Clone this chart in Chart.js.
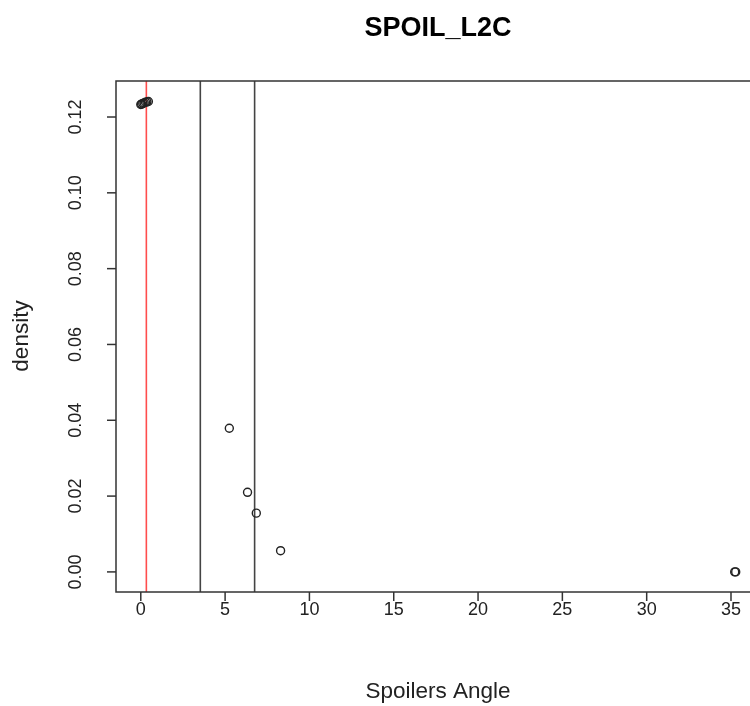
<!DOCTYPE html>
<html>
<head>
<meta charset="utf-8">
<script src="https://cdn.jsdelivr.net/npm/chart.js@4.4.1/dist/chart.umd.min.js"></script>
<style>
  html, body { margin: 0; padding: 0; background: #fff; }
  #wrap { width: 750px; height: 706px; overflow: hidden; position: relative; }
  canvas { display: block; }
</style>
</head>
<body>
<div id="wrap"><canvas id="c" width="800" height="706"></canvas></div>
<script>
// Observed spoiler angles and their estimated densities
const angle   = [0.00, 0.05, 0.12, 0.20, 0.28, 0.36, 0.45, 5.25, 6.33, 6.85, 8.29, 35.22, 35.28];
const density = [0.1233, 0.1234, 0.1236, 0.1237, 0.1239, 0.1240, 0.1241, 0.0379, 0.0210, 0.0155, 0.0056, 0.0000, 0.0000];

// Reference lines
const redLine = [0.33];
const blackLines = [3.53, 6.75];

// Axis ticks
const xTicks = [0, 5, 10, 15, 20, 25, 30, 35];
const yTicks = [0.00, 0.02, 0.04, 0.06, 0.08, 0.10, 0.12];
const yTickLabels = ["0.00", "0.02", "0.04", "0.06", "0.08", "0.10", "0.12"];

const X_MIN = -1.47, X_MAX = 36.72;
const Y_MIN = -0.0053, Y_MAX = 0.1295;

const FONT = "'Liberation Sans', Arial, sans-serif";

const points = angle.map((a, i) => ({ x: a, y: density[i] }));
const vline = (x) => [{ x: x, y: Y_MIN }, { x: x, y: Y_MAX }];

const lineDatasets = [];
redLine.forEach(x => lineDatasets.push({
  type: 'line', data: vline(x), borderColor: '#ff4d4d', borderWidth: 1.6,
  pointRadius: 0, fill: false, order: 2
}));
blackLines.forEach(x => lineDatasets.push({
  type: 'line', data: vline(x), borderColor: '#444', borderWidth: 1.6,
  pointRadius: 0, fill: false, order: 2
}));

// Base-graphics style frame, ticks and labels
const framePlugin = {
  id: 'frame',
  afterDraw(chart) {
    const { ctx, chartArea: a, scales } = chart;
    const xs = scales.x, ys = scales.y;
    const tick = 9;
    ctx.save();
    ctx.strokeStyle = '#333';
    ctx.lineWidth = 1.5;
    ctx.strokeRect(a.left, a.top, a.right - a.left, a.bottom - a.top);

    ctx.fillStyle = '#222';
    ctx.font = `18px ${FONT}`;
    ctx.textAlign = 'center';
    ctx.textBaseline = 'middle';
    xs.ticks.forEach(t => {
      const px = xs.getPixelForValue(t.value);
      ctx.beginPath();
      ctx.moveTo(px, a.bottom);
      ctx.lineTo(px, a.bottom + tick);
      ctx.stroke();
      ctx.fillText(t.label, px, 610);
    });
    ys.ticks.forEach(t => {
      const py = ys.getPixelForValue(t.value);
      ctx.beginPath();
      ctx.moveTo(a.left, py);
      ctx.lineTo(a.left - tick, py);
      ctx.stroke();
      ctx.save();
      ctx.translate(76, py);
      ctx.rotate(-Math.PI / 2);
      ctx.fillText(t.label, 0, 0);
      ctx.restore();
    });

    // axis titles
    ctx.font = `22.5px ${FONT}`;
    ctx.fillText('Spoilers Angle', 438, 692);
    ctx.save();
    ctx.translate(22, 336);
    ctx.rotate(-Math.PI / 2);
    ctx.fillText('density', 0, 0);
    ctx.restore();

    // main title
    ctx.font = `bold 27px ${FONT}`;
    ctx.fillStyle = '#000';
    ctx.fillText('SPOIL_L2C', 438, 29);
    ctx.restore();
  }
};

new Chart(document.getElementById('c'), {
  type: 'scatter',
  data: {
    datasets: [
      {
        data: points,
        showLine: false,
        pointRadius: 4,
        pointBorderWidth: 1.4,
        pointBorderColor: '#222',
        pointBackgroundColor: 'rgba(0,0,0,0)',
        order: 1
      },
      ...lineDatasets
    ]
  },
  options: {
    responsive: false,
    animation: false,
    events: [],
    layout: { padding: { left: 116, top: 81, right: 40, bottom: 114 } },
    plugins: { legend: { display: false }, tooltip: { enabled: false }, title: { display: false } },
    scales: {
      x: {
        type: 'linear', min: X_MIN, max: X_MAX, display: false,
        afterBuildTicks: s => { s.ticks = xTicks.map(v => ({ value: v })); },
        ticks: { callback: v => String(v) }
      },
      y: {
        type: 'linear', min: Y_MIN, max: Y_MAX, display: false,
        afterBuildTicks: s => { s.ticks = yTicks.map(v => ({ value: v })); },
        ticks: { callback: v => yTickLabels[yTicks.findIndex(t => Math.abs(t - v) < 1e-9)] }
      }
    }
  },
  plugins: [framePlugin]
});
</script>
</body>
</html>
